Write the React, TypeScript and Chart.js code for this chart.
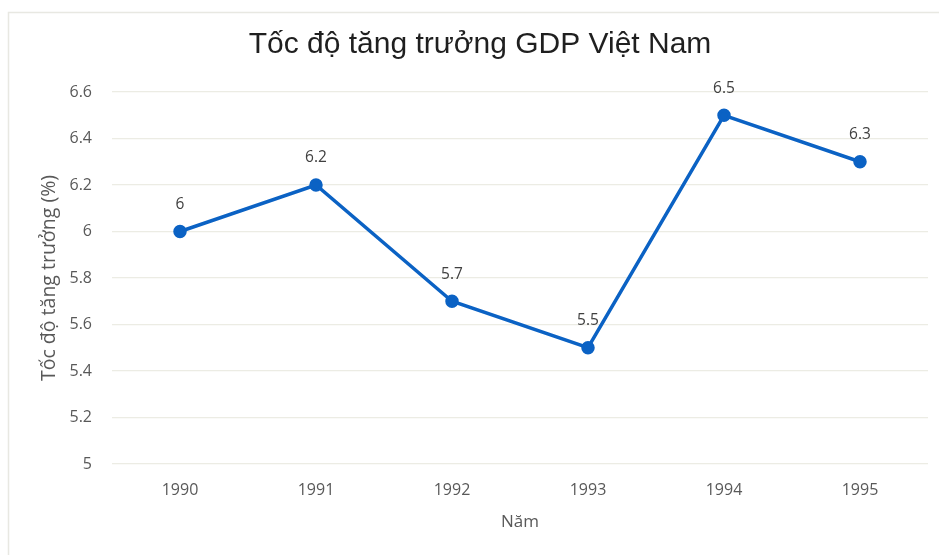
import React, { useEffect, useRef } from "react";
import { Chart, registerables } from "chart.js";

Chart.register(...registerables);

const years = ["1990", "1991", "1992", "1993", "1994", "1995"];
const growth = [6, 6.2, 5.7, 5.5, 6.5, 6.3];
const yMin = 5;
const yMax = 6.6;
const yStep = 0.2;
const chartTitle = "Tốc độ tăng trưởng GDP Việt Nam";
const xTitle = "Năm";
const yTitle = "Tốc độ tăng trưởng (%)";

const LINE = "#0b62c4";
const TICK = "#595959";
const GRID = "#ecece4";
const TICK_FONT = "'Open Sans', 'DejaVu Sans', sans-serif";

const frame = {
  id: "frame",
  beforeDraw(chart: any) {
    const ctx = chart.ctx;
    ctx.save();
    ctx.fillStyle = "#ffffff";
    ctx.fillRect(0, 0, chart.width, chart.height);
    ctx.strokeStyle = "#e8e8e2";
    ctx.lineWidth = 1.5;
    ctx.strokeRect(8.5, 12.5, chart.width + 20, chart.height + 20);
    ctx.restore();
  },
};

const valueLabels = {
  id: "valueLabels",
  afterDatasetsDraw(chart: any) {
    const ctx = chart.ctx;
    const meta = chart.getDatasetMeta(0);
    const data = chart.data.datasets[0].data as number[];
    ctx.save();
    ctx.font = `15.5px ${TICK_FONT}`;
    ctx.fillStyle = "#404040";
    ctx.textAlign = "center";
    ctx.textBaseline = "middle";
    meta.data.forEach((pt: any, i: number) => {
      ctx.fillText(String(data[i]), pt.x, pt.y - 27);
    });
    ctx.restore();
  },
};

export default function App() {
  const ref = useRef<HTMLCanvasElement>(null);
  useEffect(() => {
    if (!ref.current) return;
    const chart = new Chart(ref.current, {
      type: "line",
      data: {
        labels: years,
        datasets: [
          {
            data: growth,
            borderColor: LINE,
            backgroundColor: LINE,
            borderWidth: 3.5,
            pointRadius: 5,
            pointHoverRadius: 5,
            pointBackgroundColor: LINE,
            pointBorderColor: LINE,
            tension: 0,
            fill: false,
          },
        ],
      },
      options: {
        animation: false,
        responsive: false,
        maintainAspectRatio: false,
        layout: { padding: { left: 32, right: 11, top: 0, bottom: 0 } },
        plugins: {
          legend: { display: false },
          tooltip: { enabled: false },
          title: {
            display: true,
            text: chartTitle,
            color: "#1f1f1f",
            font: { family: "'Liberation Sans', Arial, sans-serif", size: 30, weight: "normal", lineHeight: 1.2 },
            padding: { top: 27, bottom: 29 },
          },
        },
        scales: {
          x: {
            offset: true,
            grid: { display: false, drawTicks: false },
            border: { display: false },
            ticks: {
              color: TICK,
              font: { family: TICK_FONT, size: 16 },
              padding: 17,
              maxRotation: 0,
            },
            title: {
              display: true,
              text: xTitle,
              color: TICK,
              font: { family: TICK_FONT, size: 17 },
              padding: { top: 10, bottom: 23 },
            },
            afterFit(scale: any) {
              scale.height = 555 - 464;
            },
          },
          y: {
            min: yMin,
            max: yMax,
            grid: { color: GRID, lineWidth: 1.2, drawTicks: false },
            border: { display: false },
            ticks: {
              stepSize: yStep,
              color: TICK,
              font: { family: TICK_FONT, size: 16 },
              padding: 20,
              callback: (v: any) => String(Math.round(Number(v) * 10) / 10),
            },
            title: {
              display: true,
              text: yTitle,
              color: TICK,
              font: { family: TICK_FONT, size: 19.5 },
              padding: { top: 6, bottom: 0 },
            },
            afterFit(scale: any) {
              scale.width = 80;
            },
          },
        },
      },
      plugins: [frame, valueLabels],
    });
    return () => chart.destroy();
  }, []);
  return (
    <div style={{ position: "absolute", left: 0, top: 0, width: 939, height: 555, background: "#fff" }}>
      <canvas ref={ref} width={939} height={555} style={{ display: "block", width: 939, height: 555 }} />
    </div>
  );
}
